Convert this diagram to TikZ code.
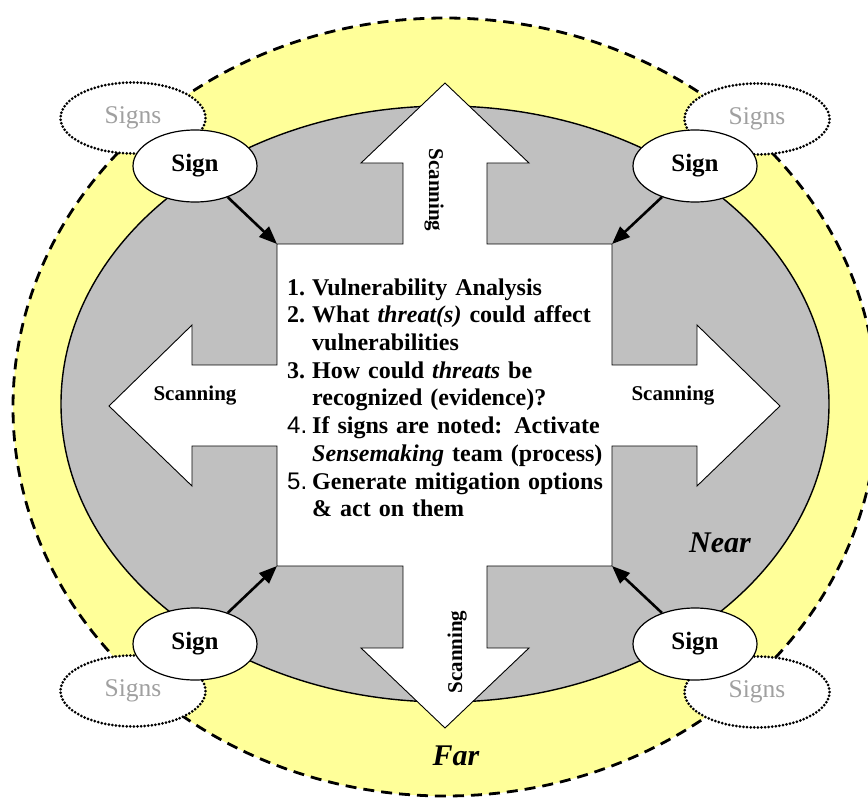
\documentclass[tikz,border=0pt]{standalone}
\usepackage{fontspec}
\setmainfont{Liberation Serif}
\newfontfamily\numfont{Liberation Sans}
\usetikzlibrary{shapes.geometric,arrows.meta}

\definecolor{paleyellow}{RGB}{255,255,153}
\definecolor{ringgray}{RGB}{192,192,192}
\definecolor{faintgray}{RGB}{160,160,160}

\newcommand\stepsfont{\fontsize{24}{27.7}\selectfont\bfseries}

\tikzset{
  sign/.style={ellipse, draw, line width=1.2pt, fill=white, minimum width=124pt,
    minimum height=72pt, inner sep=0pt, font=\fontsize{25}{28}\selectfont\bfseries},
  signs/.style={ellipse, draw, line width=3pt, line cap=round,
    dash pattern=on 0pt off 3.6pt,
    fill=white, minimum width=145pt, minimum height=71pt, inner sep=0pt,
    text=faintgray, font=\fontsize{25.5}{28}\selectfont},
  scan/.style={anchor=base, inner sep=0pt, font=\fontsize{21}{24}\selectfont\bfseries},
  zone/.style={anchor=base, inner sep=0pt, font=\fontsize{30}{34}\selectfont\bfseries\itshape},
  toward/.style={line width=2.6pt, -{Triangle[length=18pt,width=14pt]}},
}

\begin{document}
\begin{tikzpicture}[x=1pt,y=-1pt]
  \useasboundingbox (0,0) rectangle (868,798);

  % far and near rings
  \draw[fill=paleyellow, line width=2.8pt, dash pattern=on 11pt off 7pt]
    (445,407) ellipse [x radius=432pt, y radius=389pt];
  \draw[fill=ringgray, line width=1.4pt]
    (445,404) ellipse [x radius=384pt, y radius=298pt];

  % white box with the four scanning arrows
  \draw[fill=white, line width=0.9pt]
    (445,83) -- (529,163) -- (487,163) -- (487,244) -- (612,244) -- (612,365)
    -- (697,365) -- (697,325) -- (780,406) -- (697,486) -- (697,446) -- (612,446)
    -- (612,566) -- (487,566) -- (487,648) -- (529,648) -- (445,728) -- (361,648)
    -- (403,648) -- (403,566) -- (277,566) -- (277,446) -- (192,446) -- (192,486)
    -- (109,406) -- (192,325) -- (192,365) -- (277,365) -- (277,244) -- (403,244)
    -- (403,163) -- (361,163) -- cycle;

  \coordinate (boxNW) at (277,244);
  \coordinate (boxNE) at (612,244);
  \coordinate (boxSW) at (277,566);
  \coordinate (boxSE) at (612,566);

  \node[scan, rotate=-90] (scanN) at (429,190) {Scanning};
  \node[scan, rotate=90] (scanS) at (462,652) {Scanning};
  \node[scan] (scanW) at (195,400) {Scanning};
  \node[scan] (scanE) at (673,400) {Scanning};

  \node[anchor=north west, inner sep=0pt, align=left, text width=320pt, font=\stepsfont]
    (steps) at (287,275.6) {\strut\makebox[25pt][l]{1.}Vulnerability Analysis\\
    \makebox[25pt][l]{2.}What \textit{threat(s)} could affect\\
    \hspace*{25pt}vulnerabilities\\
    \makebox[25pt][l]{3.}How could \textit{threats} be\\
    \hspace*{25pt}recognized (evidence)?\\
    \makebox[25pt][l]{\numfont\mdseries 4.}If signs are noted: Activate\\
    \hspace*{25pt}\textit{Sensemaking} team (process)\\
    \makebox[25pt][l]{\numfont\mdseries 5.}Generate mitigation options\\
    \hspace*{25pt}\& act on them};

  % signs at the four corners
  \node[signs] (signsNW) at (133,118) {Signs};
  \node[signs] (signsNE) at (757,119) {Signs};
  \node[signs] (signsSW) at (133,691) {Signs};
  \node[signs] (signsSE) at (757,692) {Signs};
  \node[sign] (signNW) at (195,166) {Sign};
  \node[sign] (signNE) at (695,166) {Sign};
  \node[sign] (signSW) at (195,644) {Sign};
  \node[sign] (signSE) at (695,644) {Sign};

  \draw[toward] (signNW) -- (boxNW);
  \draw[toward] (signNE) -- (boxNE);
  \draw[toward] (signSW) -- (boxSW);
  \draw[toward] (signSE) -- (boxSE);

  \node[zone] (near) at (720,552) {Near};
  \node[zone] (far) at (456,765) {Far};
\end{tikzpicture}
\end{document}
